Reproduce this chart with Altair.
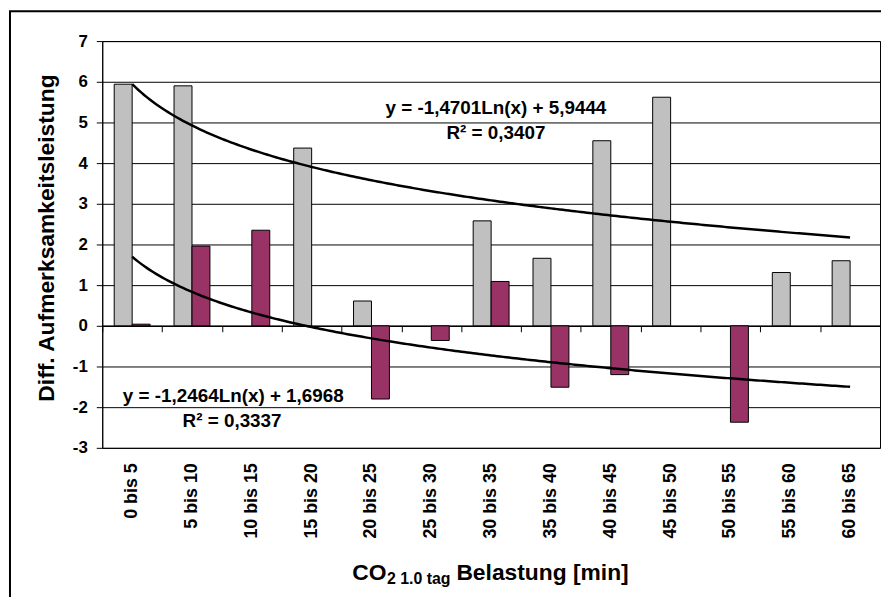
import altair as alt
import pandas as pd

categories = ["0 bis 5", "5 bis 10", "10 bis 15", "15 bis 20", "20 bis 25", "25 bis 30",
              "30 bis 35", "35 bis 40", "40 bis 45", "45 bis 50", "50 bis 55", "55 bis 60",
              "60 bis 65"]
grau = [5.94, 5.90, None, 4.37, 0.61, None, 2.58, 1.66, 4.55, 5.62, None, 1.31, 1.60]
lila = [0.04, 1.96, 2.35, None, -1.80, -0.36, 1.09, -1.51, -1.20, None, -2.37, None, None]
series_names = ["grau", "lila"]
series_colors = ["#C0C0C0", "#993366"]
trend_names = ["oben", "unten"]
trend_slope = [-1.4701, -1.2464]
trend_intercept = [5.9444, 1.6968]
trend_labels = ["y = -1,4701Ln(x) + 5,9444", "y = -1,2464Ln(x) + 1,6968"]
r2_labels = ["R² = 0,3407", "R² = 0,3337"]
y_ticks = list(range(-3, 8))
x_title_parts = ["CO", "2 1.0 tag", "Belastung [min]"]
y_title = "Diff. Aufmerksamkeitsleistung"

rows = []
for i, c in enumerate(categories):
    for s, vals in zip(series_names, [grau, lila]):
        if vals[i] is not None:
            rows.append({"cat": c, "series": s, "value": vals[i]})
bars_df = pd.DataFrame(rows)

W, H = 784, 410
FONT = "Liberation Sans"
n = len(categories)

y_scale = alt.Scale(domain=[-3, 7], nice=False, zero=False)
y_axis = alt.Axis(values=y_ticks, title=y_title, titleFontSize=23, titleFontWeight="bold",
                  titleFont=FONT, titleColor="black", titleX=-56, titleY=198, titleAngle=270,
                  titleAlign="center", titleBaseline="middle",
                  labelFontSize=17, labelFontWeight="bold", labelFont=FONT, labelColor="black",
                  labelPadding=9, tickSize=6, tickColor="black", domainColor="black",
                  labelExpr="datum.value + ''",
                  gridColor="black", gridWidth=1, grid=True)

bars = alt.Chart(bars_df).mark_bar(stroke="black", strokeWidth=1, opacity=1).encode(
    x=alt.X("cat:N", sort=categories,
            scale=alt.Scale(paddingInner=0.4, paddingOuter=0.2),
            axis=alt.Axis(orient="bottom", labelAngle=-90, labelFontSize=18, labelFontWeight="bold",
                          labelFont=FONT, labelColor="black", labelPadding=15, ticks=False,
                          domain=False, grid=False, title=None)),
    xOffset=alt.XOffset("series:N", sort=series_names,
                        scale=alt.Scale(paddingInner=0, paddingOuter=0)),
    y=alt.Y("value:Q", scale=y_scale, axis=y_axis),
    color=alt.Color("series:N", sort=series_names,
                    scale=alt.Scale(domain=series_names, range=series_colors), legend=None),
)

x_q_scale = alt.Scale(domain=[0.5, n + 0.5], nice=False, zero=False)
zero_axis = alt.Axis(orient="bottom", offset=-H * 3 / 10, values=[k + 0.5 for k in range(n + 1)],
                     labels=False, tickSize=6, tickColor="black", domainColor="black",
                     domainWidth=1.5, grid=False, title=None)

calc = {name: f"{a}*log(datum.x)+{b}" for name, a, b in zip(trend_names, trend_slope, trend_intercept)}
trend = alt.Chart(alt.sequence(1, n + 0.001, 0.05, as_="x")).transform_calculate(
    **calc
).transform_fold(trend_names, as_=["trend", "y"]).mark_line(
    color="black", strokeWidth=2.5
).encode(
    x=alt.X("x:Q", scale=x_q_scale, axis=zero_axis),
    y=alt.Y("y:Q", scale=y_scale, axis=y_axis),
    detail="trend:N",
)

one = alt.Data(values=[{}])
txt = dict(font=FONT, fontWeight="bold", fontSize=19, color="black", align="center", baseline="middle")
ann = [
    alt.Chart(one).mark_text(text=trend_labels[0], **txt).encode(x=alt.datum(7.08), y=alt.datum(5.35)),
    alt.Chart(one).mark_text(text=r2_labels[0], **txt).encode(x=alt.datum(7.08), y=alt.datum(4.75)),
    alt.Chart(one).mark_text(text=trend_labels[1], **txt).encode(x=alt.datum(2.69), y=alt.datum(-1.73)),
    alt.Chart(one).mark_text(text=r2_labels[1], **txt).encode(x=alt.datum(2.67), y=alt.datum(-2.34)),
]

ttl = dict(font=FONT, fontWeight="bold", color="black", align="left", baseline="alphabetic")
titles = [
    alt.Chart(one).mark_text(text=x_title_parts[0], fontSize=23, **ttl).encode(x=alt.value(252), y=alt.value(543)),
    alt.Chart(one).mark_text(text=x_title_parts[1], fontSize=16, **ttl).encode(x=alt.value(287), y=alt.value(547)),
    alt.Chart(one).mark_text(text=x_title_parts[2], fontSize=23, **ttl).encode(x=alt.value(357), y=alt.value(543)),
]

frame = alt.Chart(one).mark_rect(fill=None, stroke="black", strokeWidth=2).encode(
    x=alt.value(-93), x2=alt.value(W + 60), y=alt.value(-30), y2=alt.value(H + 300)
)

inner = alt.layer(trend, *ann)

chart = alt.layer(bars, inner, *titles, frame).resolve_scale(x="independent").properties(
    width=W, height=H,
    autosize=alt.AutoSizeParams(type="none"),
    padding={"left": 95, "top": 31, "right": 1, "bottom": 148},
    background="white",
).configure_view(stroke="black", strokeWidth=1)

chart.save("out.html", embed_options={"renderer": "svg", "actions": False})
